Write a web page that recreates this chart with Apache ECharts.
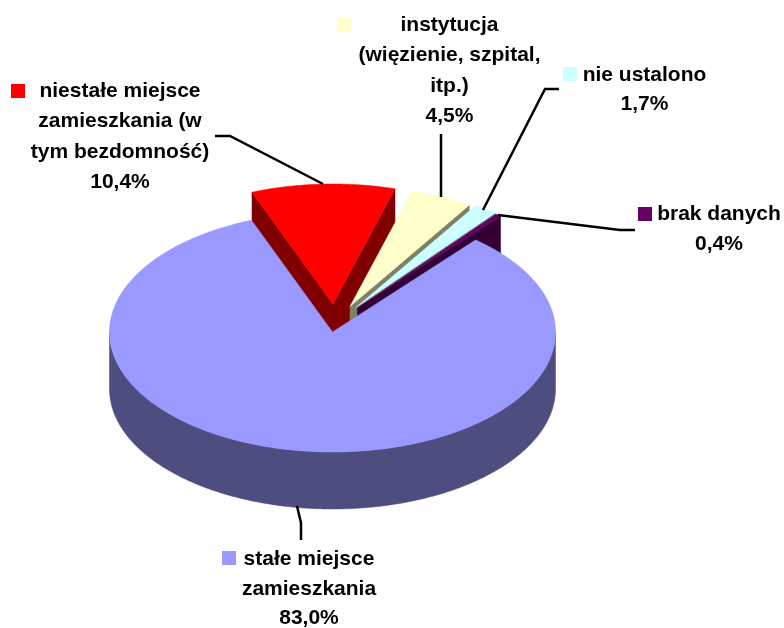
<!DOCTYPE html>
<html>
<head>
<meta charset="utf-8">
<style>
html, body { margin: 0; padding: 0; background: #fff; }
#chart { width: 784px; height: 628px; }
</style>
<script src="https://cdn.jsdelivr.net/npm/echarts@6/dist/echarts.min.js"></script>
</head>
<body>
<div id="chart"></div>
<script>
// slices in clockwise order, back to front
var categories = ['niestałe miejsce zamieszkania (w tym bezdomność)', 'instytucja (więzienie, szpital, itp.)', 'nie ustalono', 'brak danych', 'stałe miejsce zamieszkania'];
var values = [10.4, 4.5, 1.7, 0.4, 83.0];
var topColors = ['#ff0000', '#ffffcc', '#ccffff', '#660066', '#9999ff'];
var sideColors = ['#800000', '#808066', '#668080', '#330033', '#4d4d80'];
var labelLines = [
    ['niestałe miejsce', 'zamieszkania (w', 'tym bezdomność)'],
    ['instytucja', '(więzienie, szpital,', 'itp.)'],
    ['nie ustalono'],
    ['brak danych'],
    ['stałe miejsce', 'zamieszkania']
];

// pie layout
var centerX = 332.5, centerY = 332, radiusX = 223, radiusY = 120, depth = 57;
var startAngle = -21.3;
var explode = [[0.5, -28], [17.5, -25.5], [24, -25], [25, -24], [0, 0]];

// label layout
var labelCenterX = [120, 449.5, 644.5, 719, 309];
var labelFirstY = [91, 25, 75, 214, 559];
var labelStep = [30.4, 30.4, 29.5, 30, 29.8];
var keyPos = [[11, 84], [337, 18], [563, 67], [638, 207], [222, 551]];
var leaders = [
    [[215, 136], [230, 136], [323, 184]],
    [[441, 134], [441, 197]],
    [[559, 89], [545, 89], [483, 210]],
    [[635, 230], [620, 230], [498, 215]],
    [[297, 506], [301, 523], [301, 540]]
];

function point(cx, cy, angle, dy) {
    var a = angle * Math.PI / 180;
    return [cx + radiusX * Math.sin(a), cy - radiusY * Math.cos(a) + (dy || 0)];
}

function arcPoints(cx, cy, from, to, dy) {
    var pts = [];
    for (var a = from; a < to; a += 0.5) pts.push(point(cx, cy, a, dy));
    pts.push(point(cx, cy, to, dy));
    return pts;
}

function poly(points, fill) {
    return { type: 'polygon', shape: { points: points }, style: { fill: fill, stroke: fill, lineWidth: 0.5 } };
}

function renderSlice(params, api) {
    var i = params.dataIndex;
    var total = 0, before = 0;
    values.forEach(function (v, k) {
        total += v;
        if (k < i) before += v;
    });
    var from = startAngle + before / total * 360;
    var to = from + api.value(0) / total * 360;
    var cx = centerX + explode[i][0], cy = centerY + explode[i][1];
    var children = [];

    if (to - from < 180) {
        // walls along the cut edges; the left one faces away once it is past 12 o'clock
        (from < 0 ? [from, to] : [to]).forEach(function (a) {
            var p = point(cx, cy, a);
            children.push(poly([[cx, cy], p, [p[0], p[1] + depth], [cx, cy + depth]], sideColors[i]));
        });
    } else {
        // the outer wall, front half of the rim only
        var rimTop = arcPoints(cx, cy, 90, 270, 0);
        var rimBottom = arcPoints(cx, cy, 90, 270, depth).reverse();
        children.push(poly(rimTop.concat(rimBottom), sideColors[i]));
    }

    children.push(poly([[cx, cy]].concat(arcPoints(cx, cy, from, to, 0)), topColors[i]));
    return { type: 'group', children: children };
}

function formatValue(v) {
    return v.toFixed(1).replace('.', ',') + '%';
}

var overlay = [];
categories.forEach(function (name, i) {
    overlay.push({
        type: 'polyline', z: 100, silent: true,
        shape: { points: leaders[i] },
        style: { stroke: '#000', lineWidth: 2.5, fill: null }
    });
    overlay.push({
        type: 'rect', z: 100, silent: true,
        shape: { x: keyPos[i][0], y: keyPos[i][1], width: 14, height: 14 },
        style: { fill: topColors[i] }
    });
    labelLines[i].concat(formatValue(values[i])).forEach(function (line, k) {
        overlay.push({
            type: 'text', z: 100, silent: true,
            x: labelCenterX[i], y: labelFirstY[i] + k * labelStep[i],
            style: {
                text: line, fill: '#000', align: 'center', verticalAlign: 'middle',
                font: 'bold 21px "Liberation Sans", Arial, sans-serif'
            }
        });
    });
});

var chart = echarts.init(document.getElementById('chart'));
chart.setOption({
    animation: false,
    backgroundColor: '#fff',
    graphic: { elements: overlay },
    series: [{
        type: 'custom',
        coordinateSystem: 'none',
        silent: true,
        renderItem: renderSlice,
        data: values.map(function (v, i) {
            return { name: categories[i], value: [v] };
        })
    }]
});
</script>
</body>
</html>
